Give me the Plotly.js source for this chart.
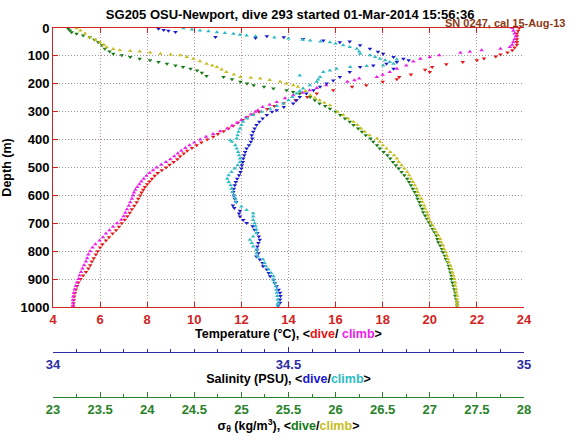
<!DOCTYPE html>
<html>
<head>
<meta charset="utf-8">
<script src="https://cdn.plot.ly/plotly-3.0.1.min.js"></script>
<style>
  html, body { margin: 0; padding: 0; background: #fff; }
  #chart { width: 570px; height: 436px; }
</style>
</head>
<body>
<div id="chart"></div>
<script>
// ---- Temperature (°C), dive (red) ----
const tempDiveDepth = [0,10,20,30,40,50,60,70,80,88,95,102,109,116,122,130,140,150,158,167,176,184,193,205,211,223,235,247,259,270,280,290,
  300,310,320,330,340,350,360,370,380,390,400,410,420,430,440,450,460,470,480,490,500,510,520,530,540,550,560,570,580,590,600,612,625,637,650,662,675,687,700,712,725,737,750,762,775,787,800,812,825,837,850,862,875,887,900,912,925,937,950,962,975,987,997];
const tempDiveVal   = [23.8,23.75,23.7,23.7,23.7,23.7,23.7,23.6,23.5,23.3,23.0,22.8,22.3,22.0,21.4,20.7,20.1,19.8,20.0,19.2,18.7,18.6,18.0,17.3,16.7,15.9,15.2,14.8,14.3,13.8,13.4,13.1,
  12.75,12.5,12.25,12.05,11.85,11.65,11.45,11.25,11.0,10.8,10.55,10.3,10.1,9.9,9.7,9.55,9.4,9.28,9.12,8.95,8.8,8.62,8.45,8.32,8.2,8.1,8.0,7.9,7.83,7.76,7.7,7.62,7.55,7.45,7.35,7.26,7.16,7.05,6.92,6.8,6.68,6.53,6.38,6.25,6.1,6.0,5.9,5.82,5.73,5.65,5.58,5.5,5.4,5.28,5.17,5.08,5.02,4.97,4.93,4.9,4.88,4.87,4.86];
// ---- Temperature (°C), climb (magenta) ----
const tempClimbDepth = [0,10,20,30,40,50,60,68,74,80,85,89,98,104,110,120,134,146,158,168,176,181,187,193,205,215,223,232,241,252,265,275,283,295,
  300,310,320,330,340,350,360,370,380,390,400,410,420,430,440,450,460,470,480,490,500,510,520,530,540,550,560,570,580,590,600,612,625,637,650,662,675,687,700,712,725,737,750,762,775,787,800,812,825,837,850,862,875,887,900,912,925,937,950,962,975,987,997];
const tempClimbVal   = [23.5,23.55,23.6,23.65,23.6,23.55,23.5,23.4,23.0,22.2,21.7,21.3,20.4,20.0,19.6,19.3,19.0,18.6,18.3,18.0,17.75,17.0,16.8,16.5,15.6,15.2,14.9,14.6,14.2,13.85,13.5,13.2,12.9,12.7,
  12.6,12.4,12.2,12.0,11.82,11.6,11.4,11.1,10.8,10.5,10.25,10.0,9.8,9.62,9.45,9.3,9.15,8.98,8.8,8.6,8.4,8.25,8.1,7.97,7.85,7.75,7.67,7.58,7.5,7.44,7.4,7.35,7.28,7.22,7.14,7.07,7.0,6.9,6.72,6.55,6.4,6.25,6.12,5.98,5.8,5.68,5.58,5.5,5.45,5.4,5.32,5.25,5.19,5.13,5.08,5.02,4.97,4.92,4.88,4.86,4.85,4.85,4.85];

// ---- Salinity (PSU), dive (blue) ----
const salDiveDepth = [3,7,10,14,32,36,30,33,39,45,48,51,62,74,85,92,104,110,116,122,128,134,140,146,158,176,188,199,211,223,235,247,259,271,283,295,
  300,312,324,336,348,360,372,384,396,408,420,432,444,456,468,480,492,504,516,528,540,552,564,576,588,600,612,624,636,645,655,665,676,688,699,711,723,735,747,759,771,783,795,807,819,830,842,854,866,878,890,902,914,926,938,949,961,973,985,995];
const salDiveVal   = [34.224,34.235,34.245,34.26,34.345,34.43,34.454,34.49,34.531,34.574,34.63,34.609,34.652,34.673,34.69,34.701,34.723,34.744,34.755,34.73,34.708,34.68,34.652,34.723,34.63,34.609,34.595,34.581,34.567,34.553,34.538,34.524,34.517,34.51,34.49,34.475,
  34.465,34.454,34.445,34.438,34.432,34.428,34.425,34.422,34.423,34.42,34.416,34.411,34.408,34.406,34.404,34.403,34.401,34.4,34.398,34.395,34.391,34.388,34.386,34.384,34.383,34.384,34.386,34.389,34.382,34.385,34.397,34.395,34.397,34.404,34.411,34.424,34.428,34.434,34.437,34.439,34.436,34.434,34.433,34.436,34.432,34.439,34.445,34.446,34.454,34.458,34.461,34.468,34.471,34.475,34.479,34.482,34.483,34.482,34.482,34.478];
// ---- Salinity (PSU), climb (cyan) ----
const salClimbDepth = [1,5,9,12,15,18,21,24,27,30,34,38,42,45,48,51,56,62,68,74,84,92,98,104,110,116,122,113,128,134,136,140,146,152,158,170,176,185,193,205,217,226,235,247,259,271,280,289,
  300,312,324,336,348,360,372,384,396,402,408,420,432,444,456,468,480,492,504,516,528,540,552,564,576,588,600,612,624,
  640,652,664,676,688,700,711,723,735,747,759,771,783,795,807,819,830,842,854,866,878,890,902,914,926,938,949,961,973,985,995];
const salClimbVal   = [34.277,34.295,34.312,34.33,34.348,34.365,34.383,34.397,34.411,34.43,34.47,34.5,34.53,34.546,34.568,34.588,34.6,34.616,34.63,34.645,34.65,34.652,34.673,34.684,34.694,34.705,34.715,34.73,34.723,34.701,34.666,34.631,34.602,34.588,34.574,34.524,34.567,34.563,34.56,34.545,34.531,34.524,34.517,34.508,34.5,34.489,34.475,34.461,
  34.443,34.425,34.412,34.404,34.4,34.397,34.394,34.392,34.39,34.376,34.38,34.387,34.39,34.393,34.395,34.397,34.397,34.392,34.386,34.379,34.373,34.37,34.373,34.377,34.379,34.381,34.384,34.387,34.389,
  34.4,34.411,34.425,34.425,34.425,34.428,34.43,34.432,34.432,34.425,34.418,34.422,34.425,34.432,34.432,34.435,34.446,34.449,34.452,34.458,34.463,34.468,34.468,34.471,34.473,34.474,34.475,34.476,34.477,34.478,34.477];

// ---- Sigma-theta (kg/m^3), dive (green) ----
const sigDiveDepth = [3,9,15,21,27,33,42,51,62,74,84,92,98,104,110,116,122,128,134,140,146,152,160,172,176,184,193,199,205,211,217,223,229,235,247,259,271,280,289,
  300,312,324,336,348,360,372,384,396,408,420,432,444,456,468,480,492,504,516,528,540,552,564,576,588,600,612,624,636,648,660,672,684,696,708,720,732,744,756,768,780,792,804,816,828,840,852,864,876,888,900,912,924,936,948,960,972,984,995];
const sigDiveVal   = [23.163,23.18,23.198,23.25,23.32,23.39,23.44,23.48,23.52,23.55,23.6,23.64,23.73,23.82,23.92,24.03,24.12,24.21,24.3,24.38,24.46,24.53,24.58,24.63,24.81,24.9,24.99,25.06,25.13,25.24,25.34,25.48,25.55,25.62,25.73,25.78,25.83,25.89,25.94,
  26.0,26.05,26.1,26.15,26.19,26.24,26.28,26.32,26.37,26.4,26.44,26.47,26.51,26.55,26.58,26.61,26.64,26.67,26.7,26.73,26.76,26.78,26.8,26.82,26.84,26.86,26.87,26.89,26.9,26.92,26.93,26.95,26.97,26.99,27.01,27.03,27.05,27.07,27.08,27.09,27.11,27.13,27.14,27.16,27.17,27.19,27.2,27.21,27.22,27.23,27.23,27.24,27.25,27.26,27.27,27.27,27.28,27.29,27.29];
// ---- Sigma-theta (kg/m^3), climb (yellow) ----
const sigClimbDepth = [1,9,20,33,42,51,60,69,75,80,82,84,88,92,95,98,104,110,119,128,134,140,149,158,167,176,178,181,186,193,199,205,211,226,241,250,259,268,277,
  300,312,324,336,348,360,372,384,396,408,420,432,444,456,468,480,492,504,516,528,540,552,564,576,588,600,612,624,636,648,660,672,684,696,708,720,732,744,756,768,780,792,804,816,828,840,852,864,876,888,900,912,924,936,948,960,972,984,995];
const sigClimbVal   = [23.25,23.29,23.34,23.39,23.45,23.5,23.54,23.57,23.64,23.71,23.82,23.92,24.03,24.14,24.25,24.35,24.42,24.49,24.56,24.63,24.69,24.74,24.79,24.84,24.92,24.99,25.1,25.2,25.3,25.41,25.48,25.55,25.6,25.68,25.73,25.78,25.83,25.88,25.94,
  26.02,26.08,26.13,26.19,26.23,26.27,26.31,26.36,26.44,26.47,26.5,26.54,26.58,26.62,26.65,26.67,26.7,26.73,26.76,26.78,26.8,26.82,26.84,26.86,26.87,26.89,26.91,26.92,26.94,26.95,26.97,26.98,26.99,27.01,27.03,27.05,27.07,27.09,27.11,27.12,27.14,27.15,27.17,27.18,27.19,27.2,27.22,27.23,27.24,27.25,27.26,27.27,27.27,27.28,27.28,27.29,27.29,27.29,27.29];

// ---- Text ----
const chartTitle = 'SG205 OSU-Newport, dive 293 started 01-Mar-2014 15:56:36';
const calNote = 'SN 0247, cal 15-Aug-13';

// ---- Colours ----
const C = {
  tDive: 'rgb(228,22,22)', tClimb: 'rgb(236,30,236)',
  sDive: 'rgb(25,25,205)', sClimb: 'rgb(45,188,196)',
  dDive: 'rgb(22,122,22)', dClimb: 'rgb(200,190,30)',
  tAxis: 'rgb(210,35,35)', sAxis: 'rgb(45,45,165)', dAxis: 'rgb(40,130,40)',
  cal: 'rgb(140,58,22)'
};
const FONT = 'Liberation Sans, Arial, Helvetica, sans-serif';

function tr(x, y, xa, color, sym) {
  return { x: x, y: y, xaxis: xa, yaxis: 'y', type: 'scatter', mode: 'markers',
           marker: { symbol: sym, size: 4, color: color, line: { width: 0 } },
           hoverinfo: 'skip', cliponaxis: true };
}

const data = [
  tr(tempDiveVal, tempDiveDepth, 'x', C.tDive, 'triangle-down'),
  tr(tempClimbVal, tempClimbDepth, 'x', C.tClimb, 'triangle-up'),
  tr(salDiveVal, salDiveDepth, 'x2', C.sDive, 'triangle-down'),
  tr(salClimbVal, salClimbDepth, 'x2', C.sClimb, 'triangle-up'),
  tr(sigDiveVal, sigDiveDepth, 'x3', C.dDive, 'triangle-down'),
  tr(sigClimbVal, sigClimbDepth, 'x3', C.dClimb, 'triangle-up')
];

const tickFont = (c) => ({ family: FONT, size: 13, color: c, weight: 'bold' });
const titleFont = { family: FONT, size: 12.5, color: 'black', weight: 'bold' };

const layout = {
  width: 570, height: 436,
  margin: { l: 53, r: 46, t: 28, b: 10, pad: 0, autoexpand: false },
  paper_bgcolor: 'white', plot_bgcolor: 'white',
  showlegend: false,
  font: { family: FONT, size: 13, color: 'black' },
  title: { text: chartTitle, font: { family: FONT, size: 13, color: 'black', weight: 'bold' },
           x: 0.509, xanchor: 'center', xref: 'container', y: 1 - 14.5/436, yanchor: 'middle', yref: 'container' },
  xaxis: {
    range: [4, 24], tick0: 4, dtick: 2, ticks: 'inside', ticklen: 5, tickcolor: C.tAxis,
    showline: true, linecolor: C.tAxis, linewidth: 1, mirror: 'ticks',
    showgrid: true, gridcolor: 'rgb(205,150,140)', griddash: '1px,2px', gridwidth: 1,
    zeroline: false, tickfont: tickFont(C.tAxis), anchor: 'y', automargin: false,
    title: { text: 'Temperature (°C), &lt;<span style="color:' + C.tDive + '">dive</span>/ <span style="color:' + C.tClimb + '">climb</span>&gt;',
             font: titleFont, standoff: 1 }
  },
  xaxis2: {
    overlaying: 'x', anchor: 'free', position: 0.1847, side: 'bottom',
    range: [34, 35], tick0: 34, dtick: 0.5, ticks: 'inside', ticklen: 5, tickcolor: C.sAxis,
    minor: { dtick: 0.05, tick0: 34, ticks: 'inside', ticklen: 3, tickcolor: C.sAxis, showgrid: false },
    showline: true, linecolor: C.sAxis, linewidth: 1, showgrid: false, zeroline: false,
    tickfont: tickFont(C.sAxis), automargin: false,
    title: { text: 'Salinity (PSU), &lt;<span style="color:' + C.sDive + '">dive</span>/<span style="color:' + C.sClimb + '">climb</span>&gt;',
             font: titleFont, standoff: 0 }
  },
  xaxis3: {
    overlaying: 'x', anchor: 'free', position: 0.0729, side: 'bottom',
    range: [23, 28], tick0: 23, dtick: 0.5, ticks: 'inside', ticklen: 5, tickcolor: C.dAxis,
    minor: { dtick: 0.25, tick0: 23, ticks: 'inside', ticklen: 3, tickcolor: C.dAxis, showgrid: false },
    showline: true, linecolor: C.dAxis, linewidth: 1, showgrid: false, zeroline: false,
    tickfont: tickFont(C.dAxis), automargin: false,
    title: { text: 'σ<sub>θ</sub> (kg/m<sup>3</sup>), &lt;<span style="color:' + C.dDive + '">dive</span>/<span style="color:' + C.dClimb + '">climb</span>&gt;',
             font: titleFont, standoff: 0 }
  },
  yaxis: {
    domain: [0.299, 1], range: [1000, 0], tick0: 0, dtick: 100,
    ticks: 'inside', ticklen: 5, tickcolor: C.tAxis,
    showline: true, linecolor: C.tAxis, linewidth: 1, mirror: false,
    showgrid: true, gridcolor: 'rgb(150,150,150)', griddash: '1px,2px', gridwidth: 1,
    zeroline: false, tickfont: tickFont('black'), anchor: 'x', automargin: false,
    title: { text: 'Depth (m)', font: titleFont, standoff: 6 }
  },
  yaxis2: {
    overlaying: 'y', side: 'right', anchor: 'x', range: [1000, 0], tick0: 0, dtick: 100,
    ticks: 'inside', ticklen: 5, tickcolor: 'rgb(70,70,70)',
    showline: true, linecolor: 'rgb(70,70,70)', linewidth: 1,
    showticklabels: false, showgrid: false, zeroline: false, automargin: false
  },
  annotations: [{
    text: calNote, xref: 'paper', yref: 'paper',
    x: (567 - 53) / 471, y: (426 - 23.5) / 398, xanchor: 'right', yanchor: 'middle',
    showarrow: false, font: { family: FONT, size: 11, color: C.cal, weight: 'bold' }
  }]
};

Plotly.newPlot('chart', data, layout, { staticPlot: true, displayModeBar: false });
</script>
</body>
</html>
